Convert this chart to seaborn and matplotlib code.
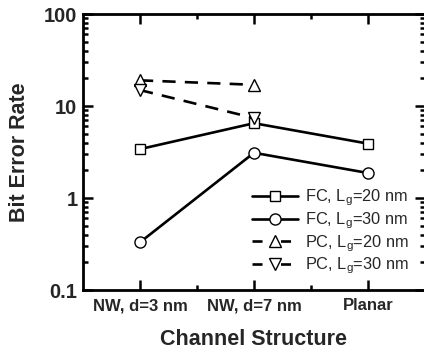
import matplotlib
matplotlib.use("Agg")
import matplotlib.pyplot as plt
import seaborn as sns
import pandas as pd
from matplotlib.ticker import LogLocator, NullFormatter, FixedLocator

categories = ["NW, d=3 nm", "NW, d=7 nm", "Planar"]
fc20 = [3.4, 6.5, 3.9]
fc30 = [0.33, 3.1, 1.87]
pc20 = [19.0, 17.0]
pc30 = [14.9, 7.4]

series_labels = [r"FC, L$_\mathregular{g}$=20 nm", r"FC, L$_\mathregular{g}$=30 nm",
                 r"PC, L$_\mathregular{g}$=20 nm", r"PC, L$_\mathregular{g}$=30 nm"]
series_values = [fc20, fc30, pc20, pc30]
markers = ["s", "o", "^", "v"]
dash_styles = [(None, None), (None, None), (5, 3.5), (5, 3.5)]

sns.set_theme(style="ticks")
plt.rcParams["font.family"] = ["Liberation Sans", "DejaVu Sans"]
plt.rcParams["mathtext.fontset"] = "custom"
plt.rcParams["mathtext.rm"] = "Liberation Sans"

fig = plt.figure(figsize=(4.24, 3.54), dpi=100)
ax = fig.add_axes([83/424, 1-290/354, 342/424, 276/354])

for lab, vals, m, d in zip(series_labels, series_values, markers, dash_styles):
    df = pd.DataFrame({"x": list(range(len(vals))), "y": vals})
    sns.lineplot(data=df, x="x", y="y", ax=ax, color="black", lw=1.9,
                 marker=m, markersize=8 if m != "s" else 7,
                 markerfacecolor="white", markeredgecolor="black",
                 markeredgewidth=1.0, label=lab)
    if d[0] is not None:
        ax.lines[-1].set_dashes(d)

ax.set_yscale("log")
ax.set_ylim(0.1, 100)
ax.set_xlim(-0.5, 2.5)
ax.set_xticks([0, 1, 2])
ax.set_xticklabels(categories)
ax.xaxis.set_minor_locator(FixedLocator([0.5, 1.5]))
ax.yaxis.set_minor_locator(LogLocator(base=10, subs=range(2, 10)))
ax.yaxis.set_minor_formatter(NullFormatter())
ax.set_yticks([0.1, 1, 10, 100])
ax.set_yticklabels(["0.1", "1", "10", "100"])

ax.tick_params(which="both", direction="in", top=True, right=True, width=1.8, color="black")
ax.tick_params(which="major", length=7)
ax.tick_params(which="minor", length=3.5)
ax.tick_params(axis="x", which="major", labelsize=12, pad=6)
ax.tick_params(axis="y", which="major", labelsize=14.5, pad=4)
for t in ax.get_xticklabels() + ax.get_yticklabels():
    t.set_fontweight("bold")
for s in ax.spines.values():
    s.set_linewidth(2)
    s.set_color("black")

ax.set_xlabel("Channel Structure", fontsize=15.5, fontweight="bold", labelpad=11)
ax.set_ylabel("Bit Error Rate", fontsize=15.5, fontweight="bold", labelpad=10)

leg = ax.legend(loc="lower right", frameon=False, fontsize=11.8, handlelength=2.8,
                handletextpad=0.4, labelspacing=0.12, borderaxespad=0, borderpad=0,
                bbox_to_anchor=(0.952, 0.05))
for h in leg.get_lines()[2:]:
    h.set_dashes((3.8, 7.0))

fig.savefig("out.png", dpi=100)
